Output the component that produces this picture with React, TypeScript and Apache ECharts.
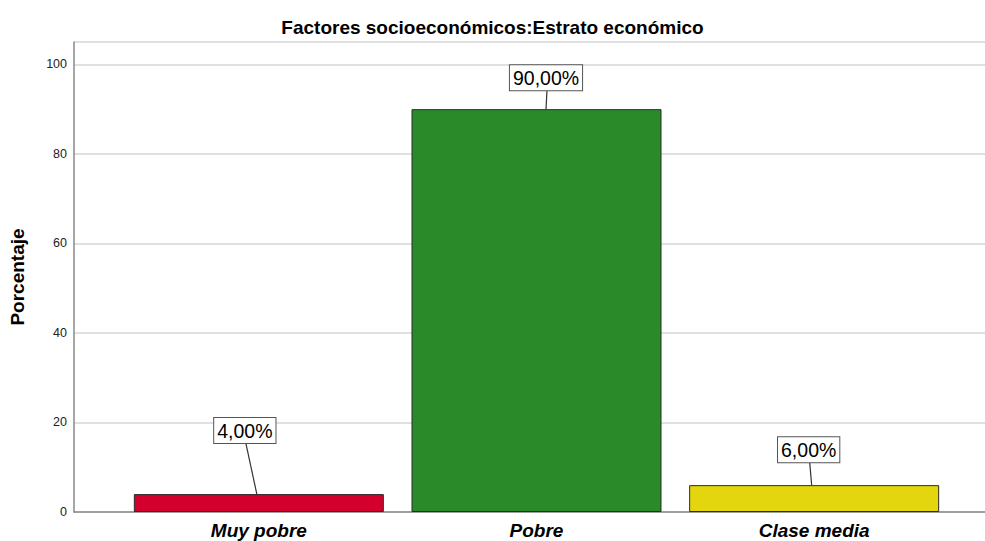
import React, { useEffect, useRef } from "react";
import * as echarts from "echarts";

const categories = ["Muy pobre", "Pobre", "Clase media"];
const percentages = [4, 90, 6];
const barColors = ["#d3002d", "#2a8a2a", "#e3d60f"];
const yTicks = [0, 20, 40, 60, 80, 100];

// label box layout: offset of box centre from bar centre, gap above bar top, leader start offset
const labelLayout = [
  { dx: -14, gap: 51, sdx: -2 },
  { dx: 9.5, gap: 19, sdx: 9.5 },
  { dx: -5.5, gap: 23, sdx: -2.5 },
];

const fmt = (v: number) => v.toFixed(2).replace(".", ",") + "%";

export default function App() {
  const ref = useRef<HTMLDivElement>(null);
  useEffect(() => {
    if (!ref.current) return;
    const chart = echarts.init(ref.current, undefined, { renderer: "svg" });
    const font = "'Liberation Sans', Arial, sans-serif";
    chart.setOption({
      animation: false,
      backgroundColor: "#fff",
      title: {
        text: "Factores socioeconómicos:Estrato económico",
        left: "center",
        top: 13,
        textStyle: { fontFamily: font, fontSize: 19, fontWeight: "bold", color: "#000" },
      },
      grid: [
        { left: 74, right: 0, top: 42, bottom: 29 },
        { left: 120, right: 32, top: 42, bottom: 29 },
      ],
      xAxis: [
        {
          gridIndex: 0,
          type: "value",
          min: 0,
          max: 1,
          axisLine: { show: true, onZero: false, lineStyle: { color: "#888", width: 1.5 } },
          axisTick: { show: false },
          axisLabel: { show: false },
          splitLine: { show: false },
        },
        {
          gridIndex: 1,
          type: "category",
          data: categories,
          axisLine: { show: false },
          axisTick: { show: false },
          axisLabel: {
            margin: 9,
            fontFamily: font,
            fontSize: 19,
            fontWeight: "bold",
            fontStyle: "italic",
            color: "#000",
          },
        },
      ],
      yAxis: [
        {
          gridIndex: 0,
          type: "value",
          min: 0,
          max: 105,
          interval: 20,
          name: "Porcentaje",
          nameLocation: "middle",
          nameRotate: 90,
          nameGap: 47,
          nameTextStyle: { fontFamily: font, fontSize: 19, fontWeight: "bold", color: "#000" },
          axisLine: { show: true, lineStyle: { color: "#888", width: 1.5 } },
          axisTick: { show: false },
          axisLabel: {
            margin: 7,
            fontFamily: font,
            fontSize: 12.5,
            color: "#222",
            formatter: (v: number) => (yTicks.includes(v) ? String(v) : ""),
          },
          splitLine: { show: true, lineStyle: { color: "#d6d6d6", width: 1.5 } },
        },
        {
          gridIndex: 1,
          type: "value",
          min: 0,
          max: 105,
          interval: 20,
          show: false,
          splitLine: { show: false },
        },
      ],
      series: [
        {
          type: "bar",
          xAxisIndex: 1,
          yAxisIndex: 1,
          barWidth: 250,
          data: percentages.map((v, i) => ({
            value: v,
            itemStyle: { color: barColors[i], borderColor: "#2a2a2a", borderWidth: 1 },
          })),
        },
        {
          type: "custom",
          xAxisIndex: 1,
          yAxisIndex: 1,
          z: 10,
          data: percentages.map((v, i) => [i, v]),
          renderItem: (params: any, api: any) => {
            const i = params.dataIndex;
            const lay = labelLayout[i];
            const top = api.coord([api.value(0), api.value(1)]);
            const bx = top[0] + lay.dx;
            const by = top[1] - lay.gap;
            return {
              type: "group",
              children: [
                {
                  type: "line",
                  shape: { x1: top[0] + lay.sdx, y1: top[1], x2: bx + 1, y2: by },
                  style: { stroke: "#333", lineWidth: 1.2 },
                },
                {
                  type: "text",
                  x: bx,
                  y: by,
                  style: {
                    text: fmt(api.value(1)),
                    fontFamily: font,
                    fontSize: 19.5,
                    fill: "#000",
                    align: "center",
                    verticalAlign: "bottom",
                    backgroundColor: "#fff",
                    borderColor: "#555",
                    borderWidth: 1,
                    padding: [3, 3, 2, 3],
                  },
                },
              ],
            };
          },
        },
      ],
    });
    return () => chart.dispose();
  }, []);
  return <div ref={ref} style={{ width: 985, height: 541, position: "absolute", left: 0, top: 0 }} />;
}
